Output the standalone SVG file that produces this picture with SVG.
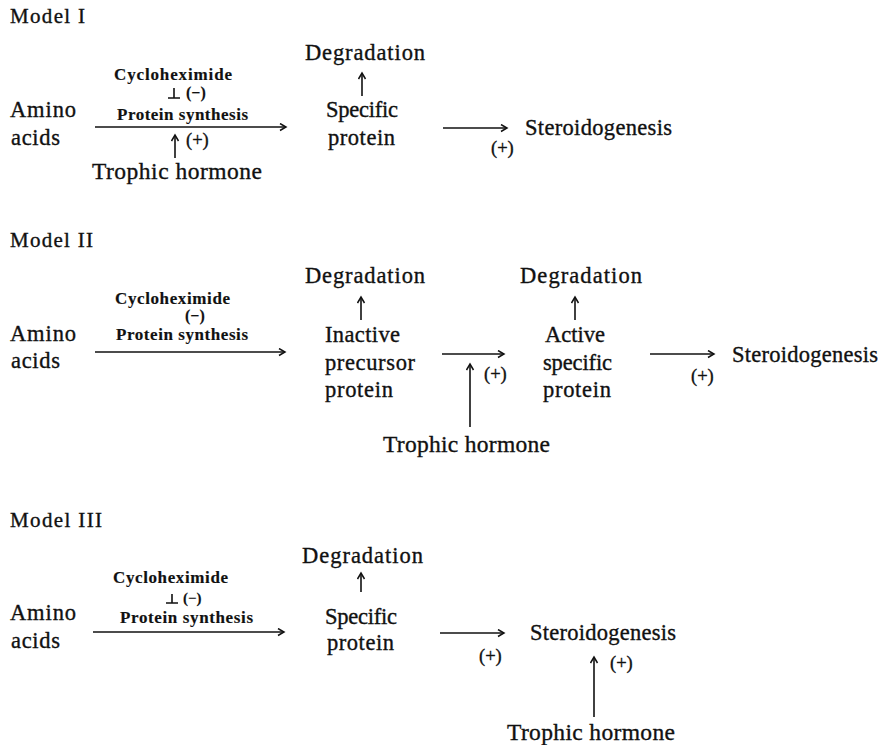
<svg xmlns="http://www.w3.org/2000/svg" width="881" height="745" viewBox="0 0 881 745">
<style>
text{font-family:"Liberation Serif","Times New Roman",serif;fill:#111;stroke:#111;stroke-width:0.35}
.t{font-size:22.5px}
.th{font-size:23.5px}
.h{font-size:21px}
.s{font-size:17px;font-weight:bold;stroke-width:0.15}
.m{font-size:16px;font-weight:bold;stroke-width:0.15}
.m3{font-size:15px;font-weight:bold;stroke-width:0.15}
.p{font-size:18.5px}
.c{stroke:#111;stroke-width:1.6;fill:none}
</style>
<defs>
<marker id="ah" markerUnits="userSpaceOnUse" markerWidth="10" markerHeight="10" refX="7" refY="4" orient="auto">
<path d="M1,0.5 L7,4 L1,7.5" fill="none" stroke="#111" stroke-width="1.5"/>
</marker>
</defs>
<rect width="881" height="745" fill="#fff"/>

<!-- Model I -->
<g id="m1-title"><text class="h" x="10" y="23" textLength="75" lengthAdjust="spacing">Model I</text></g>
<g id="m1-amino"><text class="t" x="10" y="117" textLength="66" lengthAdjust="spacing">Amino</text><text class="t" x="11" y="145" textLength="49" lengthAdjust="spacing">acids</text></g>
<g id="m1-cyclo"><text class="s" x="114" y="80" textLength="118" lengthAdjust="spacing">Cycloheximide</text><text class="m" x="186" y="98">(−)</text></g>
<g id="m1-ps"><text class="s" x="117" y="120" textLength="131" lengthAdjust="spacing">Protein synthesis</text><text class="p" x="186" y="146">(+)</text></g>
<g id="m1-trophic"><text class="th" x="92" y="179" textLength="170" lengthAdjust="spacing">Trophic hormone</text></g>
<g id="m1-degr"><text class="t" x="305" y="60" textLength="120" lengthAdjust="spacing">Degradation</text></g>
<g id="m1-protein"><text class="t" x="326" y="117" textLength="72" lengthAdjust="spacing">Specific</text><text class="t" x="328" y="145" textLength="67" lengthAdjust="spacing">protein</text></g>
<g id="m1-steroid"><text class="t" x="525" y="135" textLength="147" lengthAdjust="spacing">Steroidogenesis</text><text class="p" x="491" y="154">(+)</text></g>

<!-- Model II -->
<g id="m2-title"><text class="h" x="10" y="247" textLength="83" lengthAdjust="spacing">Model II</text></g>
<g id="m2-amino"><text class="t" x="10" y="341" textLength="66" lengthAdjust="spacing">Amino</text><text class="t" x="11" y="368" textLength="49" lengthAdjust="spacing">acids</text></g>
<g id="m2-cyclo"><text class="s" x="115" y="304" textLength="115" lengthAdjust="spacing">Cycloheximide</text><text class="m" x="185" y="321">(−)</text></g>
<g id="m2-ps"><text class="s" x="116" y="340" textLength="132" lengthAdjust="spacing">Protein synthesis</text></g>
<g id="m2-degr1"><text class="t" x="305" y="283" textLength="120" lengthAdjust="spacing">Degradation</text></g>
<g id="m2-inactive"><text class="t" x="325" y="342" textLength="75" lengthAdjust="spacing">Inactive</text><text class="t" x="325" y="370" textLength="90" lengthAdjust="spacing">precursor</text><text class="t" x="325" y="397" textLength="68" lengthAdjust="spacing">protein</text></g>
<g id="m2-plus1"><text class="p" x="484" y="380">(+)</text></g>
<g id="m2-trophic"><text class="th" x="383" y="452" textLength="167" lengthAdjust="spacing">Trophic hormone</text></g>
<g id="m2-degr2"><text class="t" x="520" y="283" textLength="122" lengthAdjust="spacing">Degradation</text></g>
<g id="m2-active"><text class="t" x="545" y="342" textLength="60" lengthAdjust="spacing">Active</text><text class="t" x="543" y="370" textLength="69" lengthAdjust="spacing">specific</text><text class="t" x="543" y="397" textLength="68" lengthAdjust="spacing">protein</text></g>
<g id="m2-steroid"><text class="t" x="732" y="362" textLength="146" lengthAdjust="spacing">Steroidogenesis</text><text class="p" x="691" y="382">(+)</text></g>

<!-- Model III -->
<g id="m3-title"><text class="h" x="10" y="527" textLength="92" lengthAdjust="spacing">Model III</text></g>
<g id="m3-amino"><text class="t" x="10" y="620" textLength="66" lengthAdjust="spacing">Amino</text><text class="t" x="11" y="648" textLength="49" lengthAdjust="spacing">acids</text></g>
<g id="m3-cyclo"><text class="s" x="113" y="583" textLength="115" lengthAdjust="spacing">Cycloheximide</text><text class="m3" x="183" y="603">(−)</text></g>
<g id="m3-ps"><text class="s" x="120" y="623" textLength="133" lengthAdjust="spacing">Protein synthesis</text></g>
<g id="m3-degr"><text class="t" x="302" y="563" textLength="121" lengthAdjust="spacing">Degradation</text></g>
<g id="m3-protein"><text class="t" x="325" y="624" textLength="72" lengthAdjust="spacing">Specific</text><text class="t" x="327" y="650" textLength="67" lengthAdjust="spacing">protein</text></g>
<g id="m3-plus1"><text class="p" x="479" y="662">(+)</text></g>
<g id="m3-steroid"><text class="t" x="530" y="640" textLength="146" lengthAdjust="spacing">Steroidogenesis</text><text class="p" x="610" y="669">(+)</text></g>
<g id="m3-trophic"><text class="th" x="507" y="740" textLength="168" lengthAdjust="spacing">Trophic hormone</text></g>

<g id="connectors" class="c">
<!-- Model I -->
<path class="c" d="M95,127 H286" marker-end="url(#ah)"/>
<path class="c" d="M174,88 V98 M168,98 H180"/>
<path class="c" d="M175,158 V135" marker-end="url(#ah)"/>
<path class="c" d="M362,96 V73" marker-end="url(#ah)"/>
<path class="c" d="M443,128 H507" marker-end="url(#ah)"/>
<!-- Model II -->
<path class="c" d="M95,352 H285" marker-end="url(#ah)"/>
<path class="c" d="M361,320 V297" marker-end="url(#ah)"/>
<path class="c" d="M442,354 H504" marker-end="url(#ah)"/>
<path class="c" d="M470,427 V364" marker-end="url(#ah)"/>
<path class="c" d="M575,320 V297" marker-end="url(#ah)"/>
<path class="c" d="M650,354 H714" marker-end="url(#ah)"/>
<!-- Model III -->
<path class="c" d="M93,632 H284" marker-end="url(#ah)"/>
<path class="c" d="M172,594 V603 M166,603 H178"/>
<path class="c" d="M361,592 V573" marker-end="url(#ah)"/>
<path class="c" d="M440,633 H504" marker-end="url(#ah)"/>
<path class="c" d="M594,717 V657" marker-end="url(#ah)"/>
</g>
</svg>
